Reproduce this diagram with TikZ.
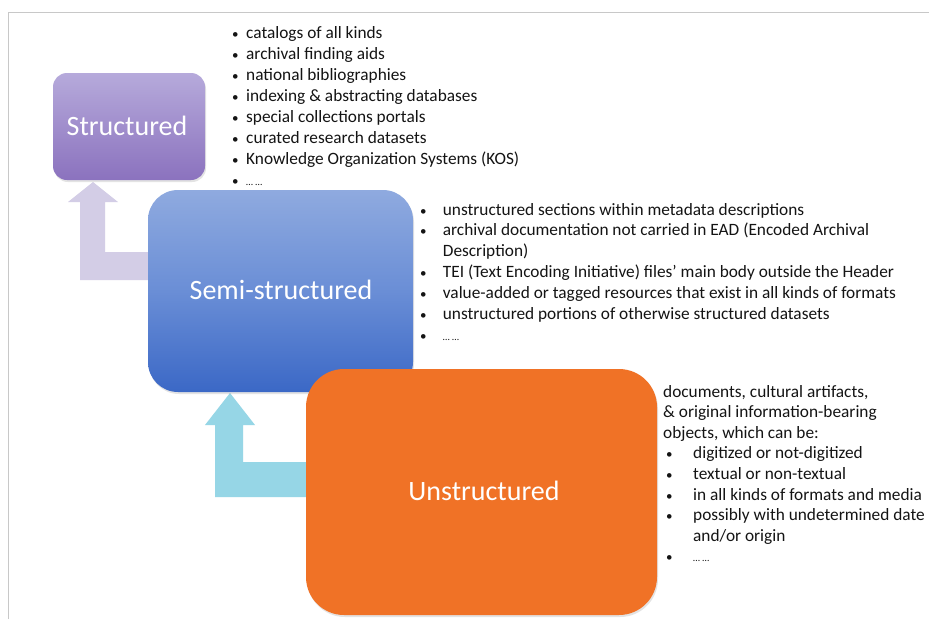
\documentclass[tikz,border=0pt]{standalone}
\usepackage{fontspec}
\setmainfont{Carlito}
\usetikzlibrary{shadows}
\definecolor{structTop}{HTML}{B6AADB}
\definecolor{structBot}{HTML}{8B72BE}
\definecolor{semiTop}{HTML}{8FAADF}
\definecolor{semiMid}{HTML}{6A8ED6}
\definecolor{semiBot}{HTML}{3B68C6}
\definecolor{unstrFill}{HTML}{F07226}
\definecolor{lavArrow}{HTML}{D3CDE6}
\definecolor{cyanArrow}{HTML}{96D6E6}
\definecolor{frameGray}{HTML}{C8C8C8}
\definecolor{listText}{HTML}{141414}
% small list bullet in a box of the given width
\newcommand{\blt}[1]{\makebox[#1][l]{{\fontsize{13}{13}\selectfont•}}}
\newcommand{\dotsgap}{{\fontsize{10}{10}\selectfont\ldots\ \ldots}}
\tikzset{
  levelbox/.style={draw=none, drop shadow={shadow xshift=1pt, shadow yshift=-2pt, opacity=0.22}},
  leveltitle/.style={text=white, font=\fontsize{28}{30}\selectfont, inner sep=0pt, anchor=base},
  listtext/.style={text=listText, inner sep=0pt, anchor=base west},
  bentarrow/.style={draw=none}
}
\begin{document}
\begin{tikzpicture}[x=1pt,y=-1pt]
\useasboundingbox (0,0) rectangle (929,619);
\fill[white] (0,0) rectangle (929,619);
% thin frame along the top and the left
\draw[frameGray, line width=1pt] (8.5,619) -- (8.5,12.5) -- (929,12.5);

% bent connectors, drawn beneath the boxes
\fill[lavArrow, bentarrow] (80,280) -- (80,202) -- (68,202) -- (93,182) -- (118,202)
  -- (105,202) -- (105,252) -- (152,252) -- (152,280) -- cycle;
\fill[cyanArrow, bentarrow] (215,497) -- (215,425) -- (205,425) -- (230,393) -- (255,425)
  -- (243,425) -- (243,462) -- (310,462) -- (310,497) -- cycle;

% the three levels
\path[levelbox, top color=structTop, bottom color=structBot, rounded corners=14pt]
  (53,73) rectangle (205,180);
\path[levelbox, top color=semiTop, bottom color=semiBot, middle color=semiMid, rounded corners=30pt]
  (148,190) rectangle (413,392);
\path[levelbox, fill=unstrFill, rounded corners=38pt]
  (306,369) rectangle (657,615);

\node[leveltitle] (structured) at (127,135) {Structured};
\node[leveltitle] (semi) at (281,299) {Semi-structured};
\node[leveltitle] (unstructured) at (484,500) {Unstructured};

% lists
\node[listtext] (structlist) at (232,38.5) {\fontsize{17.3}{21.07}\selectfont
  \begin{tabular}[t]{@{}l@{}}
  \blt{14pt}catalogs of all kinds\\
  \blt{14pt}archival finding aids\\
  \blt{14pt}national bibliographies\\
  \blt{14pt}indexing \& abstracting databases\\
  \blt{14pt}special collections portals\\
  \blt{14pt}curated research datasets\\
  \blt{14pt}Knowledge Organization Systems (KOS)\\
  \blt{14pt}\dotsgap
  \end{tabular}};

\node[listtext] (semilist) at (420,215) {\fontsize{17.3}{20.9}\selectfont
  \begin{tabular}[t]{@{}l@{}}
  \blt{22.7pt}unstructured sections within metadata descriptions\\
  \blt{22.7pt}archival documentation not carried in EAD (Encoded Archival\\
  \hspace*{22.7pt}Description)\\
  \blt{22.7pt}TEI (Text Encoding Initiative) files’ main body outside the Header\\
  \blt{22.7pt}value-added or tagged resources that exist in all kinds of formats\\
  \blt{22.7pt}unstructured portions of otherwise structured datasets\\
  \blt{22.7pt}\dotsgap
  \end{tabular}};

\node[listtext] (unstrlist) at (663,397) {\fontsize{17.3}{20.6}\selectfont
  \begin{tabular}[t]{@{}l@{}}
  documents, cultural artifacts,\\
  \& original information-bearing\\
  objects, which can be:\\
  \hspace*{3pt}\blt{27pt}digitized or not-digitized\\
  \hspace*{3pt}\blt{27pt}textual or non-textual\\
  \hspace*{3pt}\blt{27pt}in all kinds of formats and media\\
  \hspace*{3pt}\blt{27pt}possibly with undetermined date\\
  \hspace*{30pt}and/or origin\\
  \hspace*{3pt}\blt{27pt}\dotsgap
  \end{tabular}};
\end{tikzpicture}
\end{document}
